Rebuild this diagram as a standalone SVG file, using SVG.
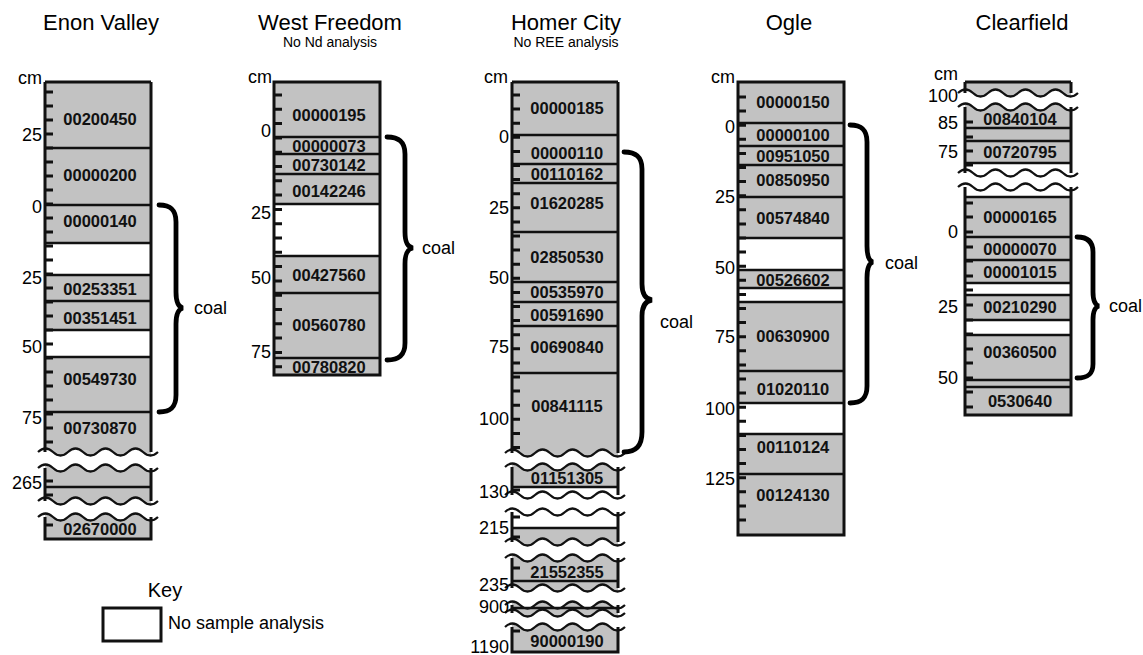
<svg xmlns="http://www.w3.org/2000/svg" xmlns:xlink="http://www.w3.org/1999/xlink" width="1143" height="655" viewBox="0 0 1143 655">
<style>
.g{fill:#c2c2c2;stroke:none}
.ln{stroke:#111;stroke-width:3;fill:none}
.rl{stroke:#111;stroke-width:2.6;fill:none}
.wv{stroke:#111;stroke-width:2.2;fill:none}
.tk{stroke:#111;stroke-width:3;fill:none}
.br{stroke:#000;stroke-width:4.8;fill:none;stroke-linecap:round}
.s{font-family:"Liberation Sans",Arial,sans-serif;font-weight:bold;font-size:16.5px;text-anchor:middle;dominant-baseline:central;fill:#111}
.ax{font-family:"Liberation Sans",Arial,sans-serif;font-size:18px;text-anchor:end;dominant-baseline:central;fill:#000}
.cm{font-family:"Liberation Sans",Arial,sans-serif;font-size:18px;text-anchor:end;fill:#000}
.t{font-family:"Liberation Sans",Arial,sans-serif;font-size:22px;text-anchor:middle;fill:#000}
.st{font-family:"Liberation Sans",Arial,sans-serif;font-size:14px;text-anchor:middle;fill:#000}
.coal{font-family:"Liberation Sans",Arial,sans-serif;font-size:18px;dominant-baseline:central;fill:#000}
</style>
<defs>
<path id="wv" d="M0 0 q7.5 -7 15 0 t15 0 t15 0 t15 0 t15 0 t15 0 t15 0 t15 0"/>
<clipPath id="cE"><rect x="45" y="0" width="106" height="655"/></clipPath>
<clipPath id="cH"><rect x="512" y="0" width="106" height="655"/></clipPath>
<clipPath id="cC"><rect x="965" y="0" width="106" height="655"/></clipPath>
</defs>
<rect width="1143" height="655" fill="#fff"/>

<g id="titles">
<text class="t" x="101" y="30">Enon Valley</text>
<text class="t" x="330" y="30">West Freedom</text>
<text class="st" x="330" y="47">No Nd analysis</text>
<text class="t" x="566" y="30">Homer City</text>
<text class="st" x="566" y="47">No REE analysis</text>
<text class="t" x="789" y="30">Ogle</text>
<text class="t" x="1022" y="30">Clearfield</text>
</g>

<g id="enon-valley">
<g clip-path="url(#cE)">
<rect class="g" x="45" y="82" width="106" height="161"/>
<rect class="g" x="45" y="275" width="106" height="55"/>
<path class="g" d="M38 357 H158 V452 q-7.5 7 -15 0 t-15 0 t-15 0 t-15 0 t-15 0 t-15 0 t-15 0 t-15 0 Z"/>
<path class="g" d="M38 468 q7.5 -7 15 0 t15 0 t15 0 t15 0 t15 0 t15 0 t15 0 t15 0 V501 q-7.5 7 -15 0 t-15 0 t-15 0 t-15 0 t-15 0 t-15 0 t-15 0 t-15 0 Z"/>
<path class="g" d="M38 517 q7.5 -7 15 0 t15 0 t15 0 t15 0 t15 0 t15 0 t15 0 t15 0 V539 H38 Z"/>
</g>
<path class="rl" d="M45 148H151M45 205H151M45 243H151M45 275H151M45 301H151M45 330H151M45 357H151M45 412H151M45 487H151"/>
<path class="ln" d="M45 82H151M45 82V452M151 82V452M45 468V501M151 468V501M45 517V539H151V517"/>
<use href="#wv" class="wv" x="38" y="452"/>
<use href="#wv" class="wv" x="38" y="468"/>
<use href="#wv" class="wv" x="38" y="501"/>
<use href="#wv" class="wv" x="38" y="517"/>
<path class="tk" d="M45 92h8M45 106h8M45 120h8M45 134h8M45 148h8M45 162h8M45 176h8M45 190h8M45 204h8M45 218h8M45 232h8M45 246h8M45 260h8M45 274h8M45 288h8M45 302h8M45 316h8M45 330h8M45 344h8M45 358h8M45 372h8M45 386h8M45 400h8M45 414h8M45 428h8M45 442h8M45 481h8M45 495h8M45 525h8"/>
<text class="cm" x="42" y="84">cm</text>
<text class="ax" x="42" y="135">25</text>
<text class="ax" x="42" y="207">0</text>
<text class="ax" x="42" y="278">25</text>
<text class="ax" x="42" y="347">50</text>
<text class="ax" x="42" y="418">75</text>
<text class="ax" x="42" y="483">265</text>
<text class="s" x="100" y="119">00200450</text>
<text class="s" x="100" y="175">00000200</text>
<text class="s" x="100" y="221">00000140</text>
<text class="s" x="100" y="289">00253351</text>
<text class="s" x="100" y="318">00351451</text>
<text class="s" x="100" y="379">00549730</text>
<text class="s" x="100" y="428">00730870</text>
<text class="s" x="100" y="529">02670000</text>
</g>

<g id="west-freedom">
<rect class="g" x="274" y="82" width="106" height="122"/>
<rect class="g" x="274" y="256" width="106" height="119"/>
<path class="rl" d="M274 137H380M274 154H380M274 174H380M274 204H380M274 256H380M274 293H380M274 358H380"/>
<rect class="ln" x="274" y="82" width="106" height="293"/>
<path class="tk" d="M274 95h8M274 109.3h8M274 123.6h8M274 137.9h8M274 152.2h8M274 166.5h8M274 180.8h8M274 195.1h8M274 209.4h8M274 223.7h8M274 238h8M274 252.3h8M274 266.6h8M274 280.9h8M274 295.2h8M274 309.5h8M274 323.8h8M274 338.1h8M274 352.4h8M274 366.7h8"/>
<text class="cm" x="272" y="83">cm</text>
<text class="ax" x="271" y="131">0</text>
<text class="ax" x="271" y="213">25</text>
<text class="ax" x="271" y="278">50</text>
<text class="ax" x="271" y="352">75</text>
<text class="s" x="329" y="115">00000195</text>
<text class="s" x="329" y="146">00000073</text>
<text class="s" x="329" y="165">00730142</text>
<text class="s" x="329" y="191">00142246</text>
<text class="s" x="329" y="275">00427560</text>
<text class="s" x="329" y="325">00560780</text>
<text class="s" x="329" y="367">00780820</text>
</g>

<g id="homer-city">
<g clip-path="url(#cH)">
<path class="g" d="M505 82 H625 V453 q-7.5 7 -15 0 t-15 0 t-15 0 t-15 0 t-15 0 t-15 0 t-15 0 t-15 0 Z"/>
<path class="g" d="M505 467 q7.5 -7 15 0 t15 0 t15 0 t15 0 t15 0 t15 0 t15 0 t15 0 V487 H505 Z"/>
<path class="g" d="M505 528 H625 V542 q-7.5 7 -15 0 t-15 0 t-15 0 t-15 0 t-15 0 t-15 0 t-15 0 t-15 0 Z"/>
<path class="g" d="M505 558 q7.5 -7 15 0 t15 0 t15 0 t15 0 t15 0 t15 0 t15 0 t15 0 V588 q-7.5 7 -15 0 t-15 0 t-15 0 t-15 0 t-15 0 t-15 0 t-15 0 t-15 0 Z"/>
<path class="g" d="M505 605 q7.5 -7 15 0 t15 0 t15 0 t15 0 t15 0 t15 0 t15 0 t15 0 V613 q-7.5 7 -15 0 t-15 0 t-15 0 t-15 0 t-15 0 t-15 0 t-15 0 t-15 0 Z"/>
<path class="g" d="M505 627 q7.5 -7 15 0 t15 0 t15 0 t15 0 t15 0 t15 0 t15 0 t15 0 V652 H505 Z"/>
</g>
<path class="rl" d="M512 135H618M512 164H618M512 183H618M512 232H618M512 282H618M512 302H618M512 326H618M512 373H618M512 487H618M512 528H618M512 581H618M512 608H618"/>
<path class="ln" d="M512 82H618M512 82V453M618 82V453M512 467V495M618 467V495M512 512V542M618 512V542M512 558V588M618 558V588M512 605V613M618 605V613M512 627V652H618V627"/>
<use href="#wv" class="wv" x="505" y="453"/>
<use href="#wv" class="wv" x="505" y="467"/>
<use href="#wv" class="wv" x="505" y="495"/>
<use href="#wv" class="wv" x="505" y="512"/>
<use href="#wv" class="wv" x="505" y="542"/>
<use href="#wv" class="wv" x="505" y="558"/>
<use href="#wv" class="wv" x="505" y="588"/>
<use href="#wv" class="wv" x="505" y="605"/>
<use href="#wv" class="wv" x="505" y="613"/>
<use href="#wv" class="wv" x="505" y="627"/>
<path class="tk" d="M512 95h8M512 109.1h8M512 123.2h8M512 137.3h8M512 151.4h8M512 165.5h8M512 179.6h8M512 193.7h8M512 207.8h8M512 221.9h8M512 236h8M512 250.1h8M512 264.2h8M512 278.3h8M512 292.4h8M512 306.5h8M512 320.6h8M512 334.7h8M512 348.8h8M512 362.9h8M512 377h8M512 391.1h8M512 405.2h8M512 419.3h8M512 433.4h8M512 447.5h8M512 490h8M512 517h8M512 537h8M512 568h8M512 631h8"/>
<text class="cm" x="508" y="83">cm</text>
<text class="ax" x="509" y="137">0</text>
<text class="ax" x="509" y="208">25</text>
<text class="ax" x="509" y="278">50</text>
<text class="ax" x="509" y="347">75</text>
<text class="ax" x="509" y="419">100</text>
<text class="ax" x="509" y="492">130</text>
<text class="ax" x="509" y="528">215</text>
<text class="ax" x="509" y="585">235</text>
<text class="ax" x="509" y="607">900</text>
<text class="ax" x="509" y="647">1190</text>
<text class="s" x="567" y="108">00000185</text>
<text class="s" x="567" y="153">00000110</text>
<text class="s" x="567" y="174">00110162</text>
<text class="s" x="567" y="203">01620285</text>
<text class="s" x="567" y="257">02850530</text>
<text class="s" x="567" y="292">00535970</text>
<text class="s" x="567" y="315">00591690</text>
<text class="s" x="567" y="347">00690840</text>
<text class="s" x="567" y="406">00841115</text>
<text class="s" x="567" y="478">01151305</text>
<text class="s" x="567" y="572">21552355</text>
<text class="s" x="567" y="641">90000190</text>
</g>

<g id="ogle">
<rect class="g" x="738" y="82" width="106" height="156"/>
<rect class="g" x="738" y="270" width="106" height="18"/>
<rect class="g" x="738" y="302" width="106" height="101"/>
<rect class="g" x="738" y="434" width="106" height="101"/>
<path class="rl" d="M738 123H844M738 146H844M738 165H844M738 197H844M738 238H844M738 270H844M738 288H844M738 302H844M738 371H844M738 403H844M738 434H844M738 474H844"/>
<rect class="ln" x="738" y="82" width="106" height="453"/>
<path class="tk" d="M738 97h8M738 111.1h8M738 125.2h8M738 139.3h8M738 153.4h8M738 167.5h8M738 181.6h8M738 195.7h8M738 209.8h8M738 223.9h8M738 238h8M738 252.1h8M738 266.2h8M738 280.3h8M738 294.4h8M738 308.5h8M738 322.6h8M738 336.7h8M738 350.8h8M738 364.9h8M738 379h8M738 393.1h8M738 407.2h8M738 421.3h8M738 435.4h8M738 449.5h8M738 463.6h8M738 477.7h8M738 491.8h8M738 505.9h8M738 520h8"/>
<text class="cm" x="735" y="83">cm</text>
<text class="ax" x="735" y="127">0</text>
<text class="ax" x="735" y="197">25</text>
<text class="ax" x="735" y="268">50</text>
<text class="ax" x="735" y="337">75</text>
<text class="ax" x="735" y="409">100</text>
<text class="ax" x="735" y="479">125</text>
<text class="s" x="793" y="102">00000150</text>
<text class="s" x="793" y="135">00000100</text>
<text class="s" x="793" y="156">00951050</text>
<text class="s" x="793" y="180">00850950</text>
<text class="s" x="793" y="218">00574840</text>
<text class="s" x="793" y="280">00526602</text>
<text class="s" x="793" y="336">00630900</text>
<text class="s" x="793" y="389">01020110</text>
<text class="s" x="793" y="447">00110124</text>
<text class="s" x="793" y="495">00124130</text>
</g>

<g id="clearfield">
<g clip-path="url(#cC)">
<path class="g" d="M958 82 H1078 V93 q-7.5 7 -15 0 t-15 0 t-15 0 t-15 0 t-15 0 t-15 0 t-15 0 t-15 0 Z"/>
<path class="g" d="M958 107 q7.5 -7 15 0 t15 0 t15 0 t15 0 t15 0 t15 0 t15 0 t15 0 V163 H958 Z"/>
</g>
<rect class="g" x="965" y="197" width="106" height="86"/>
<rect class="g" x="965" y="295" width="106" height="25"/>
<rect class="g" x="965" y="335" width="106" height="80"/>
<path class="rl" d="M965 128H1071M965 141H1071M965 163H1071M965 197H1071M965 237H1071M965 260H1071M965 283H1071M965 295H1071M965 320H1071M965 335H1071M965 380H1071M965 387H1071"/>
<path class="ln" d="M965 82H1071M965 82V93M1071 82V93M965 107V173M1071 107V173M965 187V415H1071V187"/>
<use href="#wv" class="wv" x="958" y="93"/>
<use href="#wv" class="wv" x="958" y="107"/>
<use href="#wv" class="wv" x="958" y="173"/>
<use href="#wv" class="wv" x="958" y="187"/>
<path class="tk" d="M965 122h8M965 137h8M965 151h8M965 165h8M965 203h8M965 217h8M965 232h8M965 247h8M965 261h8M965 276h8M965 290h8M965 305h8M965 320h8M965 334h8M965 349h8M965 363h8M965 378h8M965 392h8M965 407h8"/>
<text class="cm" x="958" y="80">cm</text>
<text class="ax" x="958" y="96">100</text>
<text class="ax" x="958" y="123">85</text>
<text class="ax" x="958" y="152">75</text>
<text class="ax" x="958" y="232">0</text>
<text class="ax" x="958" y="307">25</text>
<text class="ax" x="958" y="378">50</text>
<text class="s" x="1020" y="119">00840104</text>
<text class="s" x="1020" y="152">00720795</text>
<text class="s" x="1020" y="217">00000165</text>
<text class="s" x="1020" y="249">00000070</text>
<text class="s" x="1020" y="272">00001015</text>
<text class="s" x="1020" y="307">00210290</text>
<text class="s" x="1020" y="352">00360500</text>
<text class="s" x="1020" y="401">0530640</text>
</g>

<g id="braces">
<path class="br" d="M159 205 C171 205 176 210 176 222 V292 C176 302 178 307 183 308 C178 309 176 314 176 324 V395 C176 407 171 412 159 412"/>
<path class="br" d="M387 137 C399 137 405 142 405 154 V232 C405 242 407 247 413 248 C407 249 405 254 405 264 V343 C405 355 399 360 387 360"/>
<path class="br" d="M624 152 C636 152 642 157 642 169 V284 C642 294 645 299 652 300 C645 301 642 306 642 316 V432 C642 446 636 452 624 452"/>
<path class="br" d="M850 125 C862 125 867 130 867 142 V246 C867 256 869 261 873 262 C869 263 867 268 867 278 V386 C867 398 862 403 850 403"/>
<path class="br" d="M1077 237 C1088 237 1093 242 1093 252 V292 C1093 300 1095 305 1099 306 C1095 307 1093 312 1093 320 V364 C1093 374 1088 378 1077 378"/>
<text class="coal" x="194" y="308">coal</text>
<text class="coal" x="422" y="248">coal</text>
<text class="coal" x="660" y="322">coal</text>
<text class="coal" x="885" y="263">coal</text>
<text class="coal" x="1109" y="306">coal</text>
</g>

<g id="key">
<text x="165" y="597" font-family="Liberation Sans, Arial, sans-serif" font-size="20" text-anchor="middle">Key</text>
<rect x="103" y="608" width="58" height="33" fill="#fff" stroke="#111" stroke-width="3"/>
<text x="168" y="629" font-family="Liberation Sans, Arial, sans-serif" font-size="18">No sample analysis</text>
</g>
</svg>
